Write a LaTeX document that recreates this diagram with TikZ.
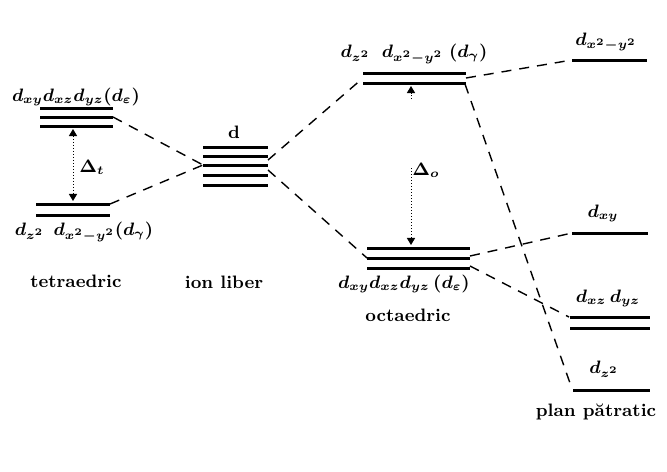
\documentclass[tikz,border=0pt]{standalone}
\usepackage{amsmath}
\usepackage{amssymb}
\usepackage{tikz}
\usetikzlibrary{arrows.meta}
\tikzset{>/.tip={Triangle[scale=0.9]}}

\begin{document}
\begin{tikzpicture}[x=0.5pt,y=-0.5pt,
  level/.style={line width=1.5pt},
  corr/.style={dash pattern=on 5pt off 4pt, line width=0.7pt},
  gap/.style={densely dotted, line width=0.5pt},
  lbl/.style={inner sep=1pt, font=\small\boldmath\bfseries}]
\useasboundingbox (0,0) rectangle (667,471);

% tetraedric
\foreach \y in {108,117,126} \draw[level] (40,\y) -- (113,\y);
\foreach \y in {204,215} \draw[level] (36,\y) -- (110,\y);
\node[lbl] (tUp) at (76,97)  {$d_{xy}d_{xz}d_{yz}(d_\varepsilon)$};
\node[lbl] (tLo) at (84,232) {$d_{z^2}\;\, d_{x^2-y^2}(d_\gamma)$};
\node[lbl] (tDel) at (92,167) {$\Delta_t$};
\node[lbl] (tName) at (76,281) {tetraedric};
\coordinate (tUpR) at (113,117);
\coordinate (tLoR) at (110,204);
\draw[gap,<->] (73,129) -- (73,201);

% ion liber
\foreach \y in {147,156,165,175,185} \draw[level] (203,\y) -- (268,\y);
\node[lbl] (dName) at (234,132) {d};
\node[lbl] (ion) at (224,282) {ion liber};
\coordinate (dL) at (203,165);
\coordinate (dR1) at (268,160);
\coordinate (dR2) at (268,170);

% octaedric
\foreach \y in {73,83} \draw[level] (363,\y) -- (466,\y);
\foreach \y in {248,258,268} \draw[level] (367,\y) -- (470,\y);
\node[lbl] (oUp) at (414,54)  {$d_{z^2}\;\; d_{x^2-y^2}\;(d_\gamma)$};
\node[lbl] (oLo) at (404,284) {$d_{xy}d_{xz}d_{yz}\,(d_\varepsilon)$};
\node[lbl] (oDel) at (426,170) {$\Delta_o$};
\node[lbl] (oName) at (408,315) {octaedric};
\coordinate (oUpL) at (363,78);
\coordinate (oUpR) at (466,78);
\coordinate (oUpR2) at (465,84);
\coordinate (oLoL) at (367,258);
\coordinate (oLoR1) at (470,256);
\coordinate (oLoR2) at (470,266);
\draw[gap,->] (411,99) -- (411,86);
\draw[gap,->] (411,168) -- (411,245);

% plan patratic
\draw[level] (572,60) -- (647,60);
\draw[level] (572,233) -- (648,233);
\foreach \y in {317,328} \draw[level] (570,\y) -- (650,\y);
\draw[level] (573,390) -- (650,390);
\node[lbl] (pA) at (606,42)  {$d_{x^2-y^2}$};
\node[lbl] (pB) at (603,213) {$d_{xy}$};
\node[lbl] (pC) at (608,298) {$d_{xz}\,d_{yz}$};
\node[lbl] (pD) at (604,369) {$d_{z^2}$};
\node[lbl] (pName) at (596,412) {plan pătratic};
\coordinate (pAL) at (572,60);
\coordinate (pBL) at (572,233);
\coordinate (pCL) at (569,317);
\coordinate (pDL) at (571,386);

% correlation lines
\draw[corr] (tUpR) -- (dL);
\draw[corr] (tLoR) -- (dL);
\draw[corr] (dR1) -- (oUpL);
\draw[corr] (dR2) -- (oLoL);
\draw[corr] (oUpR) -- (pAL);
\draw[corr] (oUpR2) -- (pDL);
\draw[corr] (oLoR1) -- (pBL);
\draw[corr] (oLoR2) -- (pCL);
\end{tikzpicture}
\end{document}
